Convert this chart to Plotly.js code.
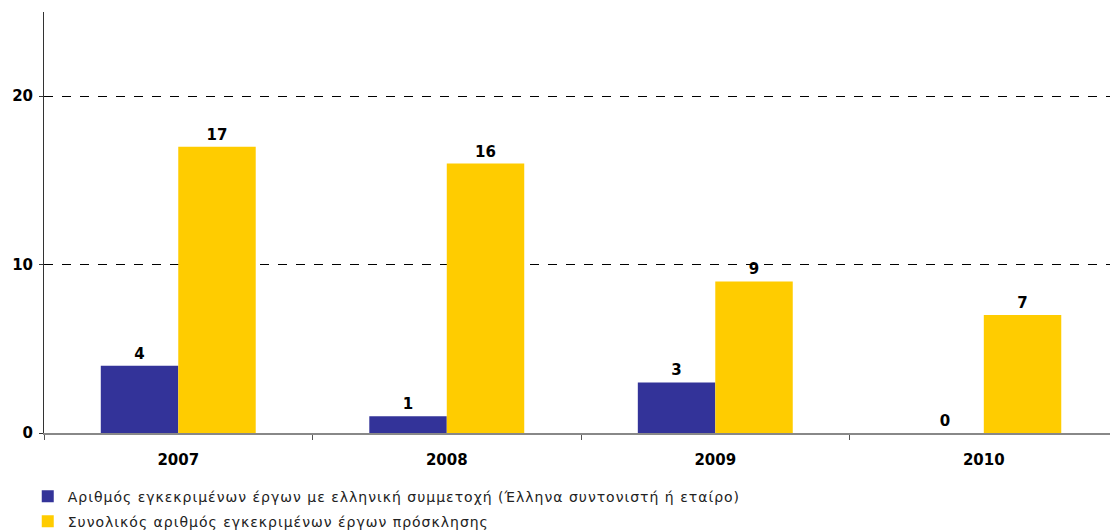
<!DOCTYPE html>
<html><head><meta charset="utf-8">
<script src="https://cdn.plot.ly/plotly-3.0.1.min.js"></script>
<style>html,body{margin:0;padding:0;background:#fff}#c{width:1110px;height:531px}
.legendtext{letter-spacing:1px}</style>
</head><body><div id="c"></div>
<script>
const years = ['2007','2008','2009','2010'];
const greekProjects = [4, 1, 3, 0];
const totalProjects = [17, 16, 9, 7];
const seriesNames = ['Αριθμός εγκεκριμένων έργων με ελληνική συμμετοχή (Έλληνα συντονιστή ή εταίρο)',
                     'Συνολικός αριθμός εγκεκριμένων έργων πρόσκλησης'];
const labelFont = {family:'DejaVu Sans, Verdana, sans-serif', size:15, color:'#000', weight:'bold'};
const traces = [
  {type:'bar', x:years, y:greekProjects, name:seriesNames[0], marker:{color:'#333399'}, legendgroup:'a',
   text:greekProjects.map(String), textposition:'outside', textfont:labelFont, cliponaxis:false},
  {type:'bar', x:years, y:totalProjects, name:seriesNames[1], marker:{color:'#FFCC00'}, legendgroup:'b',
   text:totalProjects.map(String), textposition:'outside', textfont:labelFont, cliponaxis:false}
];
const layout = {
  width:1110, height:531,
  margin:{l:44, r:0, t:12, b:98, autoexpand:false},
  paper_bgcolor:'#fff', plot_bgcolor:'#fff',
  barmode:'group', bargap:0.423, bargroupgap:0,
  font:{family:'DejaVu Sans, Verdana, sans-serif', size:13, color:'#000'},
  showlegend:true,
  legend:{orientation:'v', xref:'container', yref:'container', x:0.025, y:0.095, xanchor:'left', yanchor:'top',
          font:{size:14, color:'#222'}, traceorder:'grouped', tracegroupgap:4, itemwidth:30, bgcolor:'rgba(0,0,0,0)'},
  xaxis:{type:'category', range:[-0.5, 3.47], showline:true, linecolor:'#888', linewidth:2,
         ticks:'outside', tickson:'boundaries', ticklen:5, tickcolor:'#555', tickwidth:1, ticklabelstandoff:12,
         tickfont:{size:15, weight:'bold', color:'#000'}, showgrid:false, fixedrange:true},
  yaxis:{range:[0,25], dtick:10, showline:true, linecolor:'#333', linewidth:1,
         ticks:'outside', ticklen:4, tickcolor:'#333', ticklabelstandoff:3,
         tickfont:{size:15, weight:'bold', color:'#000'},
         showgrid:true, gridcolor:'#000', griddash:'dash', gridwidth:1, zeroline:false}
};
Plotly.newPlot('c', traces, layout, {displayModeBar:false, staticPlot:true});
</script></body></html>
